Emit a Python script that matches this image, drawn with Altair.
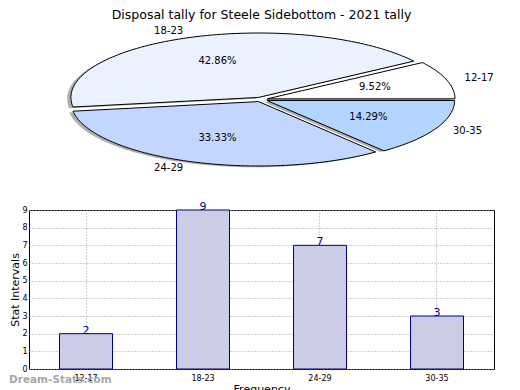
import math
import altair as alt
import numpy as np
import pandas as pd

# ---- data ----
categories = ["12-17", "18-23", "24-29", "30-35"]
counts = [2, 9, 7, 3]
pie_colors = ["#ffffff", "#ebf2ff", "#c3d6ff", "#b3d5ff"]
explode = [0.035, 0.035, 0.035, 0.035]
y_ticks = [0, 1, 2, 3, 4, 5, 6, 7, 8, 9]
title_text = "Disposal tally for Steele Sidebottom - 2021 tally"
x_title = "Frequency"
y_title = "Stat Intervals"
watermark = "Dream-Stats.com"

FONT = "DejaVu Sans"
NAVY = "#000080"

# ---- pie geometry built from the counts ----
total = float(sum(counts))
poly_rows, shadow_rows, label_rows, pct_rows = [], [], [], []
start = 0.0
for i, (cat, c) in enumerate(zip(categories, counts)):
    frac = c / total
    a0 = 2 * math.pi * start
    a1 = 2 * math.pi * (start + frac)
    mid = (a0 + a1) / 2
    cx = explode[i] * math.cos(mid)
    cy = explode[i] * math.sin(mid)
    n = max(12, int(frac * 240))
    pts = [(cx, cy)] + [(cx + math.cos(t), cy + math.sin(t)) for t in np.linspace(a0, a1, n)]
    for k, (px, py) in enumerate(pts):
        poly_rows.append({"cat": cat, "idx": k, "px": px, "py": py})
        shadow_rows.append({"cat": cat, "idx": k, "px": px - 0.02, "py": py - 0.02})
    lx = cx + 1.1 * math.cos(mid)
    ly = cy + 1.1 * math.sin(mid)
    label_rows.append({"cat": cat, "px": lx, "py": ly, "side": "left" if lx > 0 else "right"})
    pct_rows.append({"cat": cat, "px": cx + 0.6 * math.cos(mid), "py": cy + 0.6 * math.sin(mid),
                     "pct": f"{frac * 100:.2f}%"})
    start += frac

poly_df = pd.DataFrame(poly_rows)
shadow_df = pd.DataFrame(shadow_rows)
label_df = pd.DataFrame(label_rows)
pct_df = pd.DataFrame(pct_rows)

PIE_W, PIE_H = 465, 152
xsc = alt.Scale(domain=[-1.236, 1.2413], nice=False, zero=False)
ysc = alt.Scale(domain=[-1.1879, 1.1724], nice=False, zero=False)
X = alt.X("px:Q", scale=xsc, axis=None)
Y = alt.Y("py:Q", scale=ysc, axis=None)

shadow = alt.Chart(shadow_df).mark_line(
    interpolate="linear-closed", fill="#4d4d4d", fillOpacity=0.45, strokeOpacity=0
).encode(x=X, y=Y, order=alt.Order("idx:Q"), detail="cat:N")

slices = alt.Chart(poly_df).mark_line(
    interpolate="linear-closed", stroke="black", strokeWidth=1
).encode(
    x=X, y=Y, order=alt.Order("idx:Q"),
    fill=alt.Fill("cat:N", scale=alt.Scale(domain=categories, range=pie_colors), legend=None),
)

lab_left = alt.Chart(label_df).transform_filter(alt.datum.side == "left").mark_text(
    align="left", baseline="middle", fontSize=10, font=FONT, color="black"
).encode(x=X, y=Y, text="cat:N")
lab_right = alt.Chart(label_df).transform_filter(alt.datum.side == "right").mark_text(
    align="right", baseline="middle", fontSize=10, font=FONT, color="black"
).encode(x=X, y=Y, text="cat:N")
pcts = alt.Chart(pct_df).mark_text(
    align="center", baseline="middle", fontSize=10, font=FONT, color="black"
).encode(x=X, y=Y, text="pct:N")

pie = alt.layer(shadow, slices, lab_left, lab_right, pcts).properties(
    width=PIE_W, height=PIE_H,
    title=alt.TitleParams(title_text, fontSize=12.5, fontWeight="normal", font=FONT,
                          anchor="middle", frame="group", offset=3, color="black"),
)

# ---- bar chart ----
bar_df = pd.DataFrame({"cat": categories, "count": counts})
BAR_W, BAR_H = 465, 159

bx = alt.X("cat:N", sort=categories, title=x_title,
           scale=alt.Scale(paddingInner=0.547, paddingOuter=0.2607),
           axis=alt.Axis(labelAngle=0, labelFontSize=8, labelFont=FONT, labelColor="black",
                         titleFontSize=11, titleFont=FONT, titleFontWeight="normal",
                         titleColor="black", grid=True, gridDash=[1, 2], gridColor="#a0a0a0",
                         ticks=False, domain=False, labelPadding=5, titlePadding=1,
                         bandPosition=0.5))
by = alt.Y("count:Q", title=y_title, scale=alt.Scale(domain=[0, 9], nice=False),
           axis=alt.Axis(values=y_ticks, labelFontSize=8, labelFont=FONT, labelColor="black",
                         titleFontSize=11, titleFont=FONT, titleFontWeight="normal",
                         titleColor="black", grid=True, gridDash=[1, 2], gridColor="#a0a0a0",
                         ticks=False, domain=False, labelPadding=2,
                         titleX=-11, titleBaseline="alphabetic"))

bars = alt.Chart(bar_df).mark_bar(fill="#cbcce6", stroke=NAVY, strokeWidth=1).encode(x=bx, y=by)
bar_text = alt.Chart(bar_df).mark_text(
    baseline="alphabetic", align="center", fontSize=11, font=FONT, color=NAVY
).encode(x=bx, y=by, text="count:Q")
wm = alt.Chart(pd.DataFrame({"t": [watermark]})).mark_text(
    align="left", baseline="middle", fontSize=10.5, fontWeight="bold", font=FONT, color="#a8a8a8"
).encode(x=alt.value(-20), y=alt.value(170), text="t:N")

bar = alt.layer(bars, bar_text, wm).properties(
    width=BAR_W, height=BAR_H,
    view=alt.ViewBackground(stroke="black", strokeWidth=1),
)

chart = alt.vconcat(pie, bar, spacing=34, bounds="flush").properties(padding=0).configure(
    font=FONT
).configure_view(strokeWidth=0)

chart.save("out.html", embed_options={"renderer": "svg", "actions": False})
